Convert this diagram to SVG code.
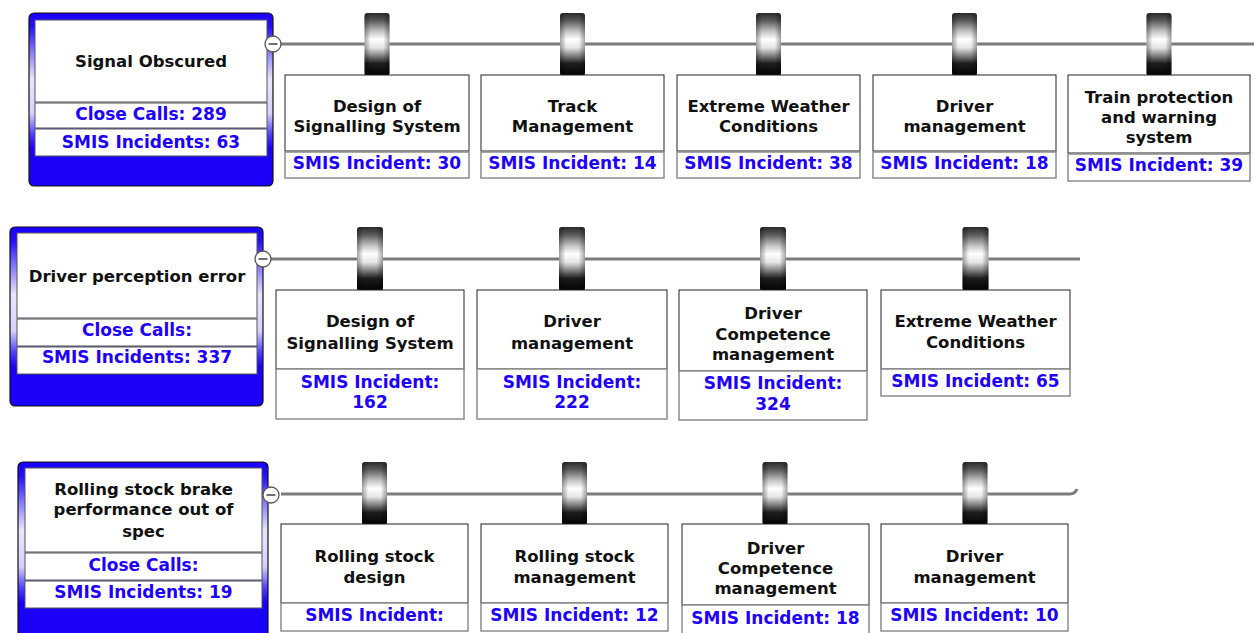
<svg xmlns="http://www.w3.org/2000/svg" width="1254" height="633" viewBox="0 0 1254 633">
<defs>
<linearGradient id="blueGrad" x1="0" y1="0" x2="0" y2="1">
<stop offset="0" stop-color="#1a00ff"/>
<stop offset="0.08" stop-color="#2410ff"/>
<stop offset="0.22" stop-color="#8478ff"/>
<stop offset="0.38" stop-color="#e6e6ff"/>
<stop offset="0.58" stop-color="#d4d2ff"/>
<stop offset="0.7" stop-color="#5040ff"/>
<stop offset="0.78" stop-color="#1a00f8"/>
<stop offset="1" stop-color="#1a00f8"/>
</linearGradient>
<linearGradient id="clipGrad" x1="0" y1="0" x2="0" y2="1">
<stop offset="0" stop-color="#2a2a2a"/>
<stop offset="0.12" stop-color="#5a5a5a"/>
<stop offset="0.3" stop-color="#c8c8c8"/>
<stop offset="0.42" stop-color="#ffffff"/>
<stop offset="0.55" stop-color="#e6e6e6"/>
<stop offset="0.68" stop-color="#808080"/>
<stop offset="0.8" stop-color="#1e1e1e"/>
<stop offset="1" stop-color="#000000"/>
</linearGradient>
<linearGradient id="clipShade" x1="0" y1="0" x2="1" y2="0">
<stop offset="0" stop-color="#000" stop-opacity="0.35"/>
<stop offset="0.25" stop-color="#000" stop-opacity="0"/>
<stop offset="0.75" stop-color="#000" stop-opacity="0"/>
<stop offset="1" stop-color="#000" stop-opacity="0.35"/>
</linearGradient>
</defs>
<style>
text{font-family:"DejaVu Sans","Verdana",sans-serif;font-weight:bold;font-size:16.5px;text-anchor:middle}
.t{fill:#111}
.c{fill:#1e00ff;font-size:17px}
.outer{fill:url(#blueGrad);stroke:#111;stroke-width:1.2}
.panel{fill:#fff;stroke:#555;stroke-width:1}
.tbox{fill:#fff;stroke:#222;stroke-width:1}
.sbox{fill:#fff;stroke:#8c8c8c;stroke-width:1.5}
.rail{stroke:#7c7c7c;stroke-width:3;fill:none}
.clip{fill:url(#clipGrad)}
.clipsh{fill:url(#clipShade)}
.toggle{fill:#fff;stroke:#555;stroke-width:1.3}
.minus{stroke:#222;stroke-width:1.3}
</style>

<g id="connectors">
<path class="rail" d="M281 44 H1254"/>
<path class="rail" d="M271 259 H1080"/>
<path class="rail" d="M281 494 H1070 q5 0 7 -5"/>
</g>

<g id="clips">
<g><rect class="clip" x="364.5" y="13" width="25" height="63" rx="3"/><rect class="clipsh" x="364.5" y="13" width="25" height="63" rx="3"/></g>
<g><rect class="clip" x="560" y="13" width="25" height="63" rx="3"/><rect class="clipsh" x="560" y="13" width="25" height="63" rx="3"/></g>
<g><rect class="clip" x="756" y="13" width="25" height="63" rx="3"/><rect class="clipsh" x="756" y="13" width="25" height="63" rx="3"/></g>
<g><rect class="clip" x="952" y="13" width="25" height="63" rx="3"/><rect class="clipsh" x="952" y="13" width="25" height="63" rx="3"/></g>
<g><rect class="clip" x="1146.5" y="13" width="25" height="63" rx="3"/><rect class="clipsh" x="1146.5" y="13" width="25" height="63" rx="3"/></g>

<g><rect class="clip" x="357" y="227" width="26" height="64" rx="3"/><rect class="clipsh" x="357" y="227" width="26" height="64" rx="3"/></g>
<g><rect class="clip" x="559" y="227" width="26" height="64" rx="3"/><rect class="clipsh" x="559" y="227" width="26" height="64" rx="3"/></g>
<g><rect class="clip" x="760" y="227" width="26" height="64" rx="3"/><rect class="clipsh" x="760" y="227" width="26" height="64" rx="3"/></g>
<g><rect class="clip" x="962.5" y="227" width="26" height="64" rx="3"/><rect class="clipsh" x="962.5" y="227" width="26" height="64" rx="3"/></g>

<g><rect class="clip" x="362" y="462" width="25" height="63" rx="3"/><rect class="clipsh" x="362" y="462" width="25" height="63" rx="3"/></g>
<g><rect class="clip" x="562" y="462" width="25" height="63" rx="3"/><rect class="clipsh" x="562" y="462" width="25" height="63" rx="3"/></g>
<g><rect class="clip" x="762.5" y="462" width="25" height="63" rx="3"/><rect class="clipsh" x="762.5" y="462" width="25" height="63" rx="3"/></g>
<g><rect class="clip" x="962.5" y="462" width="25" height="63" rx="3"/><rect class="clipsh" x="962.5" y="462" width="25" height="63" rx="3"/></g>
</g>

<!-- Row 1 -->
<g id="signal-obscured">
<rect class="outer" x="29" y="13" width="244" height="173" rx="5"/>
<rect class="panel" x="35" y="20" width="232" height="82"/>
<rect class="panel" x="35" y="103" width="232" height="25"/>
<rect class="panel" x="35" y="129" width="232" height="27"/>
<text class="t" x="151" y="67">Signal Obscured</text>
<text class="c" x="151" y="120">Close Calls: 289</text>
<text class="c" x="151" y="148">SMIS Incidents: 63</text>
<circle class="toggle" cx="273" cy="44" r="8"/>
<line class="minus" x1="268.5" y1="44" x2="277.5" y2="44"/>
</g>
<g id="r1-design-signalling">
<rect class="tbox" x="285" y="75" width="184" height="76"/>
<rect class="sbox" x="285" y="152" width="184" height="26"/>
<text class="t" x="377" y="112">Design of</text>
<text class="t" x="377" y="132">Signalling System</text>
<text class="c" x="377" y="169">SMIS Incident: 30</text>
</g>
<g id="r1-track-management">
<rect class="tbox" x="481" y="75" width="183" height="76"/>
<rect class="sbox" x="481" y="152" width="183" height="26"/>
<text class="t" x="572.5" y="112">Track</text>
<text class="t" x="572.5" y="132">Management</text>
<text class="c" x="572.5" y="169">SMIS Incident: 14</text>
</g>
<g id="r1-extreme-weather">
<rect class="tbox" x="677" y="75" width="183" height="76"/>
<rect class="sbox" x="677" y="152" width="183" height="26"/>
<text class="t" x="768.5" y="112">Extreme Weather</text>
<text class="t" x="768.5" y="132">Conditions</text>
<text class="c" x="768.5" y="169">SMIS Incident: 38</text>
</g>
<g id="r1-driver-management">
<rect class="tbox" x="873" y="75" width="183" height="76"/>
<rect class="sbox" x="873" y="152" width="183" height="26"/>
<text class="t" x="964.5" y="112">Driver</text>
<text class="t" x="964.5" y="132">management</text>
<text class="c" x="964.5" y="169">SMIS Incident: 18</text>
</g>
<g id="r1-train-protection">
<rect class="tbox" x="1068" y="75" width="182" height="78"/>
<rect class="sbox" x="1068" y="154" width="182" height="27"/>
<text class="t" x="1159" y="103">Train protection</text>
<text class="t" x="1159" y="123">and warning</text>
<text class="t" x="1159" y="143">system</text>
<text class="c" x="1159" y="171">SMIS Incident: 39</text>
</g>

<!-- Row 2 -->
<g id="driver-perception-error">
<rect class="outer" x="10" y="227" width="253" height="179" rx="5"/>
<rect class="panel" x="17" y="233" width="240" height="85"/>
<rect class="panel" x="17" y="319" width="240" height="27"/>
<rect class="panel" x="17" y="347" width="240" height="27"/>
<text class="t" x="137" y="282">Driver perception error</text>
<text class="c" x="137" y="336">Close Calls:</text>
<text class="c" x="137" y="363">SMIS Incidents: 337</text>
<circle class="toggle" cx="263" cy="259" r="8"/>
<line class="minus" x1="258.5" y1="259" x2="267.5" y2="259"/>
</g>
<g id="r2-design-signalling">
<rect class="tbox" x="276" y="290" width="188" height="79"/>
<rect class="sbox" x="276" y="369" width="188" height="50"/>
<text class="t" x="370" y="327">Design of</text>
<text class="t" x="370" y="349">Signalling System</text>
<text class="c" x="370" y="388">SMIS Incident:</text>
<text class="c" x="370" y="408">162</text>
</g>
<g id="r2-driver-management">
<rect class="tbox" x="477" y="290" width="190" height="79"/>
<rect class="sbox" x="477" y="369" width="190" height="50"/>
<text class="t" x="572" y="327">Driver</text>
<text class="t" x="572" y="349">management</text>
<text class="c" x="572" y="388">SMIS Incident:</text>
<text class="c" x="572" y="408">222</text>
</g>
<g id="r2-driver-competence">
<rect class="tbox" x="679" y="290" width="188" height="81"/>
<rect class="sbox" x="679" y="371" width="188" height="49"/>
<text class="t" x="773" y="319">Driver</text>
<text class="t" x="773" y="340">Competence</text>
<text class="t" x="773" y="360">management</text>
<text class="c" x="773" y="389">SMIS Incident:</text>
<text class="c" x="773" y="410">324</text>
</g>
<g id="r2-extreme-weather">
<rect class="tbox" x="881" y="290" width="189" height="79"/>
<rect class="sbox" x="881" y="369" width="189" height="27"/>
<text class="t" x="975.5" y="327">Extreme Weather</text>
<text class="t" x="975.5" y="348">Conditions</text>
<text class="c" x="975.5" y="387">SMIS Incident: 65</text>
</g>

<!-- Row 3 -->
<g id="rolling-stock-brake">
<rect class="outer" x="18" y="462" width="250" height="180" rx="5"/>
<rect class="panel" x="25" y="468" width="237" height="84"/>
<rect class="panel" x="25" y="553" width="237" height="27"/>
<rect class="panel" x="25" y="581" width="237" height="27"/>
<text class="t" x="143.5" y="495">Rolling stock brake</text>
<text class="t" x="143.5" y="515">performance out of</text>
<text class="t" x="143.5" y="537">spec</text>
<text class="c" x="143.5" y="571">Close Calls:</text>
<text class="c" x="143.5" y="598">SMIS Incidents: 19</text>
<circle class="toggle" cx="271" cy="495" r="8"/>
<line class="minus" x1="266.5" y1="495" x2="275.5" y2="495"/>
</g>
<g id="r3-rolling-stock-design">
<rect class="tbox" x="281" y="524" width="187" height="79"/>
<rect class="sbox" x="281" y="603" width="187" height="28"/>
<text class="t" x="374.5" y="562">Rolling stock</text>
<text class="t" x="374.5" y="583">design</text>
<text class="c" x="374.5" y="621">SMIS Incident:</text>
</g>
<g id="r3-rolling-stock-management">
<rect class="tbox" x="481" y="524" width="187" height="79"/>
<rect class="sbox" x="481" y="603" width="187" height="28"/>
<text class="t" x="574.5" y="562">Rolling stock</text>
<text class="t" x="574.5" y="583">management</text>
<text class="c" x="574.5" y="621">SMIS Incident: 12</text>
</g>
<g id="r3-driver-competence">
<rect class="tbox" x="682" y="524" width="187" height="81"/>
<rect class="sbox" x="682" y="605" width="187" height="29"/>
<text class="t" x="775.5" y="554">Driver</text>
<text class="t" x="775.5" y="574">Competence</text>
<text class="t" x="775.5" y="594">management</text>
<text class="c" x="775.5" y="624">SMIS Incident: 18</text>
</g>
<g id="r3-driver-management">
<rect class="tbox" x="881" y="524" width="187" height="79"/>
<rect class="sbox" x="881" y="603" width="187" height="28"/>
<text class="t" x="974.5" y="562">Driver</text>
<text class="t" x="974.5" y="583">management</text>
<text class="c" x="974.5" y="621">SMIS Incident: 10</text>
</g>
</svg>
